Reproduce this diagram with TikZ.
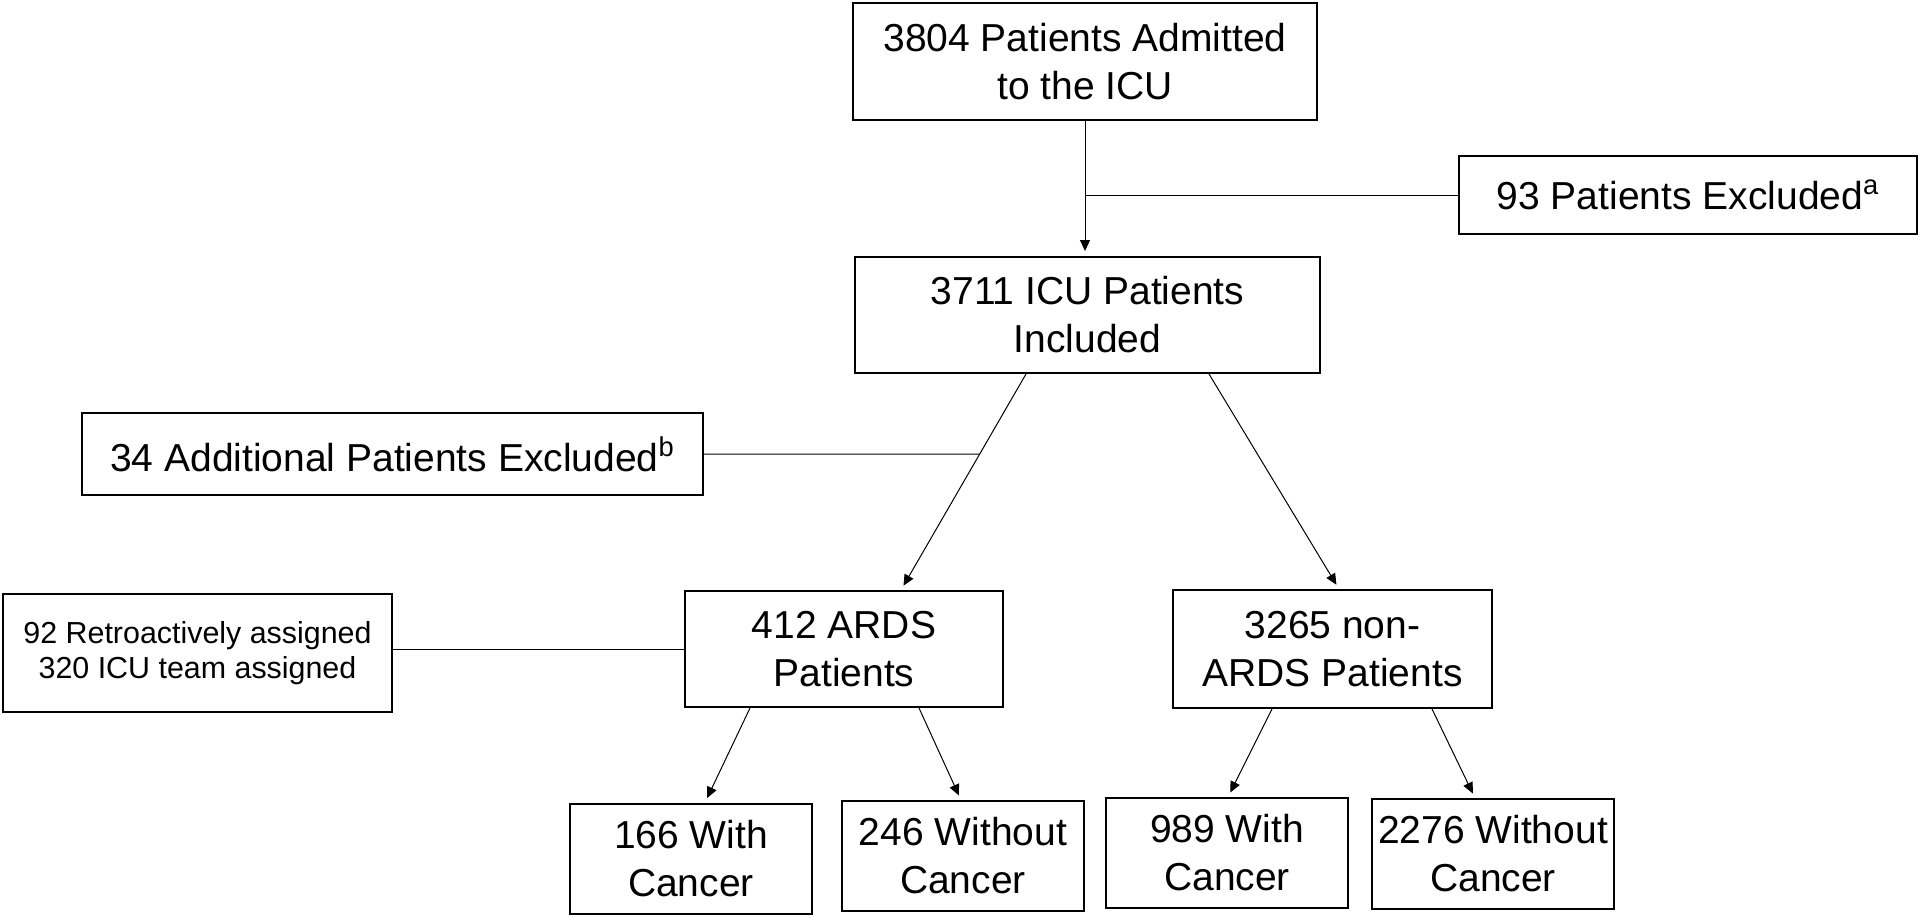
\documentclass[tikz,border=0pt]{standalone}
\usepackage{fontspec}
\setmainfont{Liberation Sans}
\usetikzlibrary{arrows.meta,calc}

\begin{document}
\begin{tikzpicture}[x=0.5pt, y=-0.5pt,
  box/.style={draw=black, line width=1pt, align=center, inner sep=0pt,
              font=\fontsize{19.5}{24}\selectfont},
  leaf/.style={box, minimum width=121pt, minimum height=55pt},
  smallbox/.style={box, font=\fontsize{15.2}{17.8}\selectfont},
  arr/.style={-{Triangle[length=5.5pt,width=5pt]}, line width=0.5pt, shorten >=2.5pt},
  ln/.style={line width=0.5pt},
]
\fill[white] (0,0) rectangle (1920,917);

% Main flow
\node[box, minimum width=232pt, minimum height=58.5pt] (admit) at (1085,61.5)
  {3804 Patients Admitted\\to the ICU};
\node[box, minimum width=229pt, minimum height=39pt] (excl) at (1688,195)
  {93 Patients Excluded\textsuperscript{a}};
\node[box, minimum width=232.5pt, minimum height=58pt] (incl) at (1087.5,315)
  {3711 ICU Patients\\Included};
\node[box, minimum width=310.5pt, minimum height=41pt] (addexcl) at (392.5,454)
  {34 Additional Patients Excluded\textsuperscript{b}};

% Groups
\node[smallbox, minimum width=194.5pt, minimum height=59pt] (assign) at (197.5,653)
  {92 Retroactively assigned\\320 ICU team assigned};
\node[box, minimum width=159pt, minimum height=58pt] (ards) at (844,649)
  {412 ARDS\\Patients};
\node[box, minimum width=159.5pt, minimum height=59pt] (nonards) at (1332.5,649)
  {3265 non-\\ARDS Patients};

% Cancer split
\node[leaf] (ardsca)   at (691,858.5) {166 With\\Cancer};
\node[leaf] (ardsnoca) at (963,856)   {246 Without\\Cancer};
\node[leaf] (nonca)    at (1227,853)  {989 With\\Cancer};
\node[leaf] (nonnoca)  at (1493,854)  {2276 Without\\Cancer};

% Connectors
\draw[arr] (admit.south) -- (admit.south |- incl.north);
\draw[ln] (excl.west) -- (excl.west -| admit.south);

\coordinate (s6) at ($(incl.south)+(-61.5,0)$);
\coordinate (t6) at ($(ards.north)+(57,0)$);
\coordinate (h4) at (addexcl.east -| incl.south);
\draw[arr] (s6) -- (t6);
\draw[arr] ($(incl.south)+(121.5,0)$) -- ($(nonards.north)+(6.5,0)$);
\draw[ln] (addexcl.east) -- (intersection of addexcl.east--h4 and s6--t6);

\draw[ln] (ards.west -| assign.east) -- (ards.west);

\draw[arr] ($(ards.south)+(-94,0)$) -- ($(ardsca.north)+(14,0)$);
\draw[arr] ($(ards.south)+(75,0)$) -- ($(ardsnoca.north)+(-2,0)$);
\draw[arr] ($(nonards.south)+(-60.5,0)$) -- ($(nonca.north)+(1,0)$);
\draw[arr] ($(nonards.south)+(99.5,0)$) -- ($(nonnoca.north)+(-18,0)$);

\end{tikzpicture}
\end{document}
